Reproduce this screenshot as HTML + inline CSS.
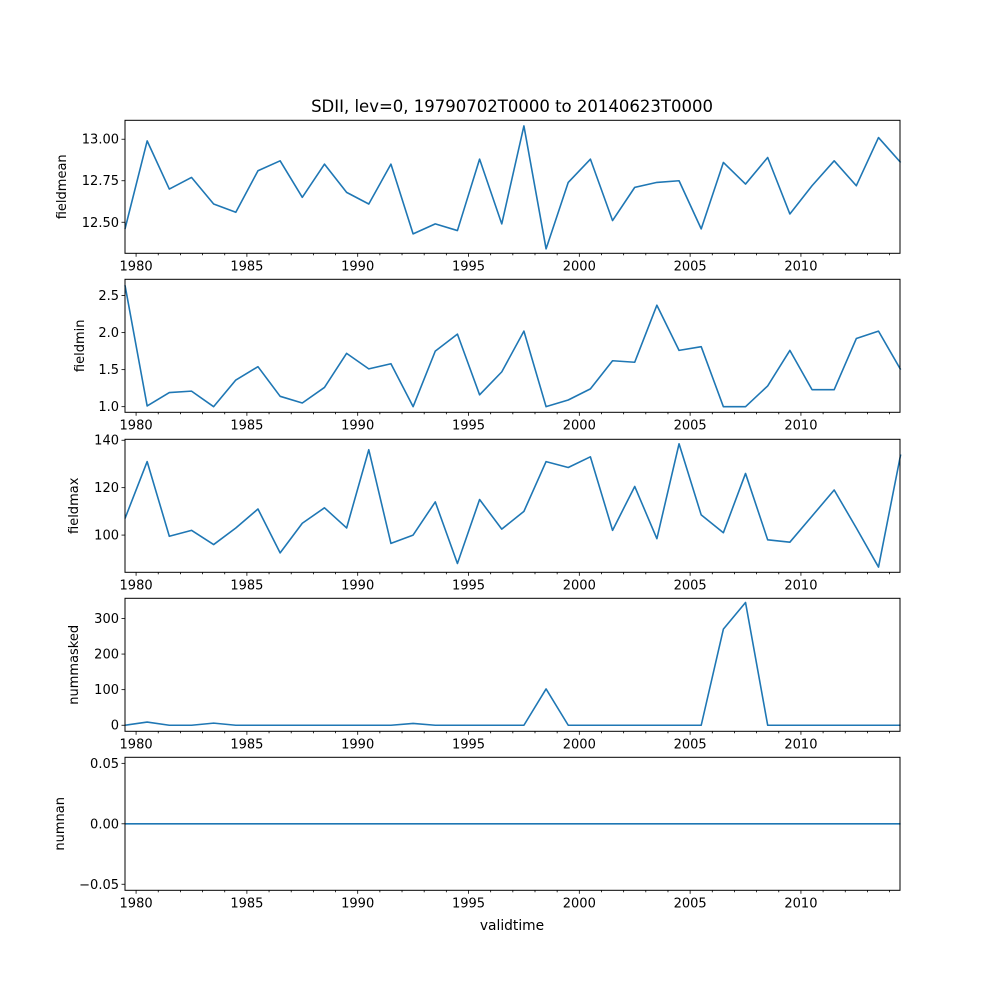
<!DOCTYPE html>
<html><head><meta charset="utf-8"><style>
body{margin:0;background:#fff}
svg text{font-family:"DejaVu Sans","Liberation Sans",sans-serif;fill:#000}
</style></head><body>
<svg id="chart" width="1000" height="1000" xmlns="http://www.w3.org/2000/svg">
<rect width="1000" height="1000" fill="#fff"/>
<text x="512" y="112" font-size="16.5" text-anchor="middle">SDII, lev=0, 19790702T0000 to 20140623T0000</text>
<text x="512" y="930" font-size="13.8" text-anchor="middle">validtime</text>
</svg>
<script>
const years = [1979,1980,1981,1982,1983,1984,1985,1986,1987,1988,1989,1990,1991,1992,1993,1994,1995,1996,1997,1998,1999,2000,2001,2002,2003,2004,2005,2006,2007,2008,2009,2010,2011,2012,2013,2014];
const fieldmean = [12.46,12.99,12.70,12.77,12.61,12.56,12.81,12.87,12.65,12.85,12.68,12.61,12.85,12.43,12.49,12.45,12.88,12.49,13.08,12.34,12.74,12.88,12.51,12.71,12.74,12.75,12.46,12.86,12.73,12.89,12.55,12.72,12.87,12.72,13.01,12.86];
const fieldmin = [2.64,1.01,1.19,1.21,1.00,1.36,1.54,1.14,1.05,1.26,1.72,1.51,1.58,1.00,1.75,1.98,1.16,1.47,2.02,1.00,1.09,1.24,1.62,1.60,2.37,1.76,1.81,1.00,1.00,1.28,1.76,1.23,1.23,1.92,2.02,1.50];
const fieldmax = [107,131,99.5,102,96,103,111,92.5,105,111.5,103,136,96.5,100,114,88,115,102.5,110,131,128.5,133,102,120.5,98.5,138.5,108.5,101,126,98,97,108,119,103,86.5,134];
const nummasked = [0,9,0,0,6,0,0,0,0,0,0,0,0,5,0,0,0,0,0,102,0,0,0,0,0,0,0,270,345,0,0,0,0,0,0,0];
const numnan = [0,0,0,0,0,0,0,0,0,0,0,0,0,0,0,0,0,0,0,0,0,0,0,0,0,0,0,0,0,0,0,0,0,0,0,0];
const xTickLabels = ["1980","1985","1990","1995","2000","2005","2010"];
const meanTicks = ["12.50","12.75","13.00"];
const minTicks = ["1.0","1.5","2.0","2.5"];
const maxTicks = ["100","120","140"];
const maskedTicks = ["0","100","200","300"];
const nanTicks = ["−0.05","0.00","0.05"];

const NS="http://www.w3.org/2000/svg";
const svg=document.getElementById('chart');
const L=125,R=900;
const t0=1979.5,t1=2014.47;
function xs(t){return L+(t-t0)/(t1-t0)*(R-L);}
function mk(tag,attrs,parent){const e=document.createElementNS(NS,tag);for(const k in attrs)e.setAttribute(k,attrs[k]);(parent||svg).appendChild(e);return e;}

const panels=[
 {name:'fieldmean',data:fieldmean,ticks:meanTicks,top:120.3,bot:253.3,ymin:12.313,ymax:13.114,lx:66},
 {name:'fieldmin',data:fieldmin,ticks:minTicks,top:279.3,bot:412.3,ymin:0.924,ymax:2.72,lx:84},
 {name:'fieldmax',data:fieldmax,ticks:maxTicks,top:439.3,bot:572.3,ymin:84.3,ymax:140.4,lx:78},
 {name:'nummasked',data:nummasked,ticks:maskedTicks,top:598.3,bot:731.3,ymin:-17,ymax:356.7,lx:78},
 {name:'numnan',data:numnan,ticks:nanTicks,top:757.3,bot:890.3,ymin:-0.055,ymax:0.055,lx:64}
];
panels.forEach(p=>{
 const g=mk('g',{});
 
 
 const ys=v=>p.bot-(v-p.ymin)/(p.ymax-p.ymin)*(p.bot-p.top);
 const d=p.data.map((v,i)=>(i?'L':'M')+xs(years[i]+0.5).toFixed(2)+','+ys(v).toFixed(2)).join('');
 const line=mk('path',{d:d,fill:'none',stroke:'#1f77b4','stroke-width':1.6,'stroke-linejoin':'round'},g);
 
 
 const frame=mk('rect',{x:L,y:p.top,width:R-L,height:p.bot-p.top,fill:'none',stroke:'#000','stroke-width':1},g);
 
 
 for(let y=1979;y<=2014;y++){
  const x=xs(y); if(x<L-0.5||x>R+0.5)continue;
  const major=(y%5===0);
  mk('line',{x1:x,x2:x,y1:p.bot,y2:p.bot+(major?3.5:2),stroke:'#000','stroke-width':0.8},g);
 }
 xTickLabels.forEach(s=>{
  const t=mk('text',{x:xs(+s),y:p.bot+17,'font-size':13,'text-anchor':'middle'},g);
  t.textContent=s;
  
  
 });
 p.ticks.forEach(s=>{
  const v=parseFloat(s.replace('−','-'));
  const y=ys(v);
  mk('line',{x1:L-3.5,x2:L,y1:y,y2:y,stroke:'#000','stroke-width':0.8},g);
  const t=mk('text',{x:L-6,y:y+4.5,'font-size':13,'text-anchor':'end'},g);
  t.textContent=s;
  
  
 });
 const cy=(p.top+p.bot)/2;
 const yl=mk('text',{x:0,y:0,'font-size':13,'text-anchor':'middle',transform:`translate(${p.lx},${cy}) rotate(-90)`},g);
 yl.textContent=p.name;
 
 
});
</script>
</body></html>
